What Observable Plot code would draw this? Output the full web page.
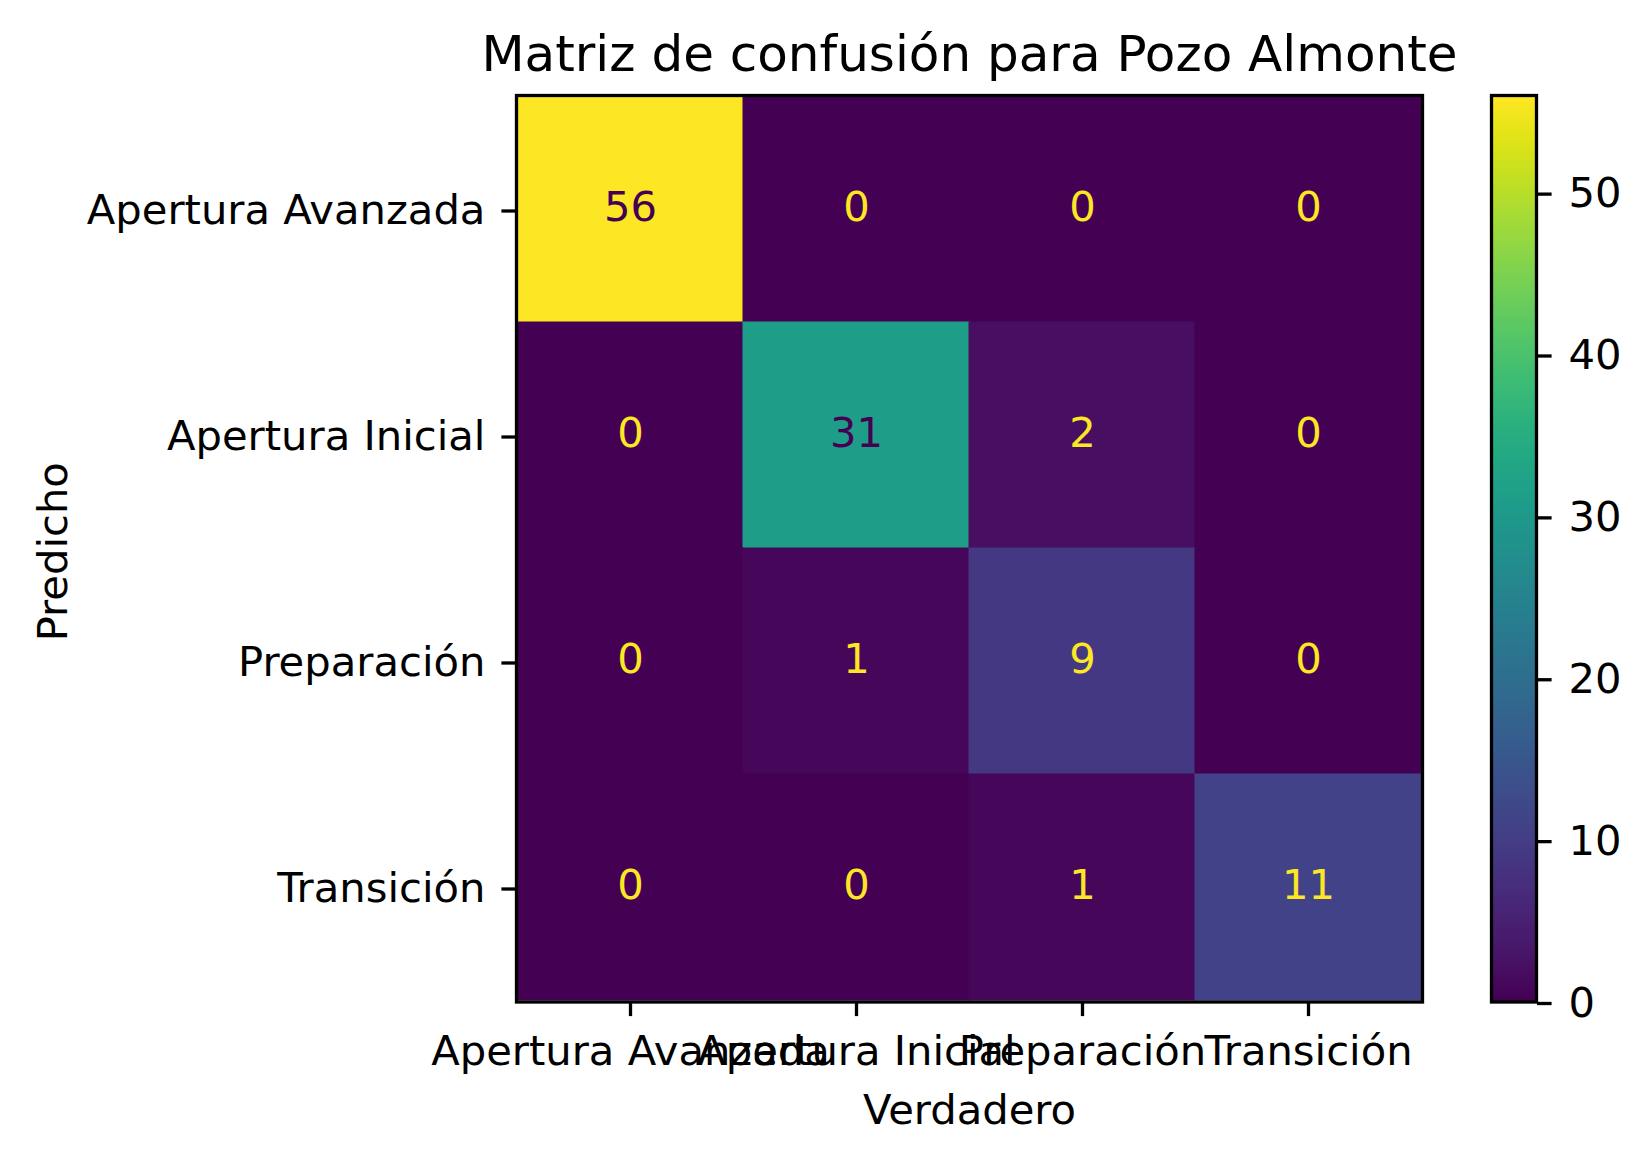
<!DOCTYPE html>
<html>
<head>
<meta charset="utf-8">
<script src="https://cdn.jsdelivr.net/npm/d3@7"></script>
<script src="https://cdn.jsdelivr.net/npm/@observablehq/plot@0.6"></script>
<style>
  html, body { margin: 0; padding: 0; background: white; }
  #wrap { position: relative; width: 1649px; height: 1162px; overflow: hidden; background: white; }
  #main, #cbar { position: absolute; top: 0; }
  #main { left: 0; }
  #cbar { left: 1460px; }
</style>
</head>
<body>
<div id="wrap"><div id="main"></div><div id="cbar"></div></div>
<script>
const categories = ["Apertura Avanzada", "Apertura Inicial", "Preparación", "Transición"];
// rows = predicted, columns = true
const rowAperturaAvanzada = [56, 0, 0, 0];
const rowAperturaInicial = [0, 31, 2, 0];
const rowPreparacion = [0, 1, 9, 0];
const rowTransicion = [0, 0, 1, 11];
const matrixRows = [rowAperturaAvanzada, rowAperturaInicial, rowPreparacion, rowTransicion];
const colorbarTicks = [0, 10, 20, 30, 40, 50];
const titleText = "Matriz de confusión para Pozo Almonte";
const xLabel = "Verdadero";
const yLabel = "Predicho";

const cells = [];
matrixRows.forEach((row, i) => row.forEach((v, j) => cells.push({pred: categories[i], truth: categories[j], value: v})));
const vmin = d3.min(cells, d => d.value), vmax = d3.max(cells, d => d.value);
const thresh = (vmin + vmax) / 2;

const FS = 41.7, LW = 3.3, TICK = 14.6;
const font = "DejaVu Sans";

const main = Plot.plot({
  width: 1460, height: 1162,
  marginLeft: 516, marginRight: 38, marginTop: 95, marginBottom: 160.5,
  style: {fontFamily: font, fontSize: FS + "px", color: "black", background: "transparent"},
  x: {type: "band", domain: categories, padding: 0, label: null},
  y: {type: "band", domain: categories, padding: 0, label: null},
  color: {type: "linear", scheme: "viridis", domain: [vmin, vmax]},
  marks: [
    Plot.cell(cells, {x: "truth", y: "pred", fill: "value", inset: -0.5}),
    Plot.text(cells, {x: "truth", y: "pred", text: d => String(d.value), fontSize: FS, dy: -1.5,
      fill: d => d.value > thresh ? "#440154" : "#fde725"}),
    Plot.frame({stroke: "black", strokeWidth: LW}),
    Plot.axisX({anchor: "bottom", tickSize: TICK, tickPadding: 18.5, strokeWidth: LW, fontSize: FS, label: null}),
    Plot.axisY({anchor: "left", tickSize: TICK, tickPadding: 16.5, strokeWidth: LW, fontSize: FS, label: null, dy: 1.5}),
    Plot.text([titleText], {text: d => d, frameAnchor: "top", textAnchor: "middle", lineAnchor: "middle", dy: -40.3, fontSize: 50}),
    Plot.text([xLabel], {text: d => d, frameAnchor: "bottom", textAnchor: "middle", lineAnchor: "middle", dy: 108.5, fontSize: FS}),
    Plot.text([yLabel], {text: d => d, frameAnchor: "left", textAnchor: "middle", lineAnchor: "middle", rotate: -90, dx: -462.6, dy: 3, fontSize: FS})
  ]
});
document.getElementById("main").appendChild(main);

const cbar = Plot.plot({
  width: 189, height: 1162,
  marginLeft: 31, marginRight: 113, marginTop: 95, marginBottom: 160.5,
  style: {fontFamily: font, fontSize: FS + "px", color: "black", background: "transparent"},
  x: {domain: [0, 1], axis: null},
  y: {domain: [vmin, vmax], label: null},
  color: {type: "linear", scheme: "viridis", domain: [vmin, vmax]},
  marks: [
    Plot.raster({x1: 0, x2: 1, y1: vmin, y2: vmax, fill: (x, y) => y, pixelSize: 1}),
    Plot.frame({stroke: "black", strokeWidth: LW}),
    Plot.axisY(colorbarTicks, {anchor: "right", tickSize: TICK, tickPadding: 17.4, strokeWidth: LW, fontSize: FS, label: null, dy: 1.5})
  ]
});
document.getElementById("cbar").appendChild(cbar);
</script>
</body>
</html>
